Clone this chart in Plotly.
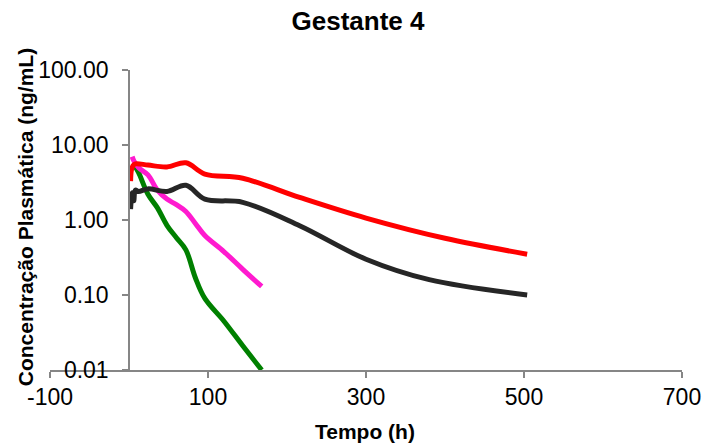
import plotly.graph_objects as go

# Plasma concentration profiles (ng/mL) over time (h)
red_t = [2, 3, 5, 8, 24, 48, 72, 96, 144, 216, 300, 400, 504]
red_c = [3.3, 4.6, 5.3, 5.6, 5.4, 5.1, 5.8, 4.1, 3.6, 2.0, 1.06, 0.57, 0.35]

black_t = [2, 4, 6, 8, 12, 24, 48, 72, 96, 144, 216, 300, 380, 504]
black_c = [1.4, 2.3, 1.8, 2.5, 2.4, 2.6, 2.4, 2.9, 1.9, 1.72, 0.84, 0.30, 0.16, 0.10]

pink_t = [4, 6, 12, 24, 36, 48, 60, 72, 84, 96, 120, 144, 168]
pink_c = [7.0, 6.2, 5.0, 4.0, 2.5, 1.9, 1.6, 1.3, 0.9, 0.62, 0.38, 0.22, 0.13]

green_t = [6, 12, 24, 36, 48, 60, 72, 84, 96, 120, 144, 168]
green_c = [5.5, 4.3, 2.2, 1.45, 0.85, 0.58, 0.40, 0.17, 0.09, 0.045, 0.021, 0.01]

x_ticks = [-100, 100, 300, 500, 700]
y_ticks = [0.01, 0.1, 1, 10, 100]
y_labels = [f"{v:.2f}" for v in y_ticks]

FONT = "Arial, Liberation Sans, sans-serif"
AXIS_GRAY = "#868686"

series = [
    (green_t, green_c, "#008000"),
    (pink_t, pink_c, "#FF1ACF"),
    (black_t, black_c, "#262626"),
    (red_t, red_c, "#FF0000"),
]

fig = go.Figure()
for t, c, col in series:
    fig.add_trace(go.Scatter(
        x=t, y=c, mode="lines",
        line=dict(color=col, width=5, shape="spline", smoothing=1.0),
        showlegend=False, hoverinfo="skip",
    ))

fig.update_layout(
    width=713, height=448,
    margin=dict(l=50, r=25, t=70, b=78),
    paper_bgcolor="white", plot_bgcolor="white",
    font=dict(family=FONT, color="black"),
    title=dict(text="<b>Gestante 4</b>", x=358 / 713, xanchor="center",
               y=1 - 21 / 448, yanchor="middle", font=dict(size=26, family=FONT)),
    xaxis=dict(
        range=[-100, 700], tickvals=x_ticks, ticktext=[str(v) for v in x_ticks],
        showgrid=False, zeroline=False, showline=True, linecolor=AXIS_GRAY, linewidth=1.5,
        ticks="outside", ticklen=6, tickcolor=AXIS_GRAY, tickwidth=1.5,
        tickfont=dict(size=23, family=FONT, color="black"),
    ),
    yaxis=dict(
        type="log", range=[-2, 2], tickvals=y_ticks, ticktext=y_labels,
        anchor="free", position=0.125, ticklabelstandoff=9,
        showgrid=False, zeroline=False, showline=True, linecolor=AXIS_GRAY, linewidth=1.5,
        ticks="outside", ticklen=6, tickcolor=AXIS_GRAY, tickwidth=1.5,
        tickfont=dict(size=23, family=FONT, color="black"),
    ),
)

fig.add_annotation(
    text="<b>Concentração Plasmática (ng/mL)</b>", textangle=-90,
    xref="paper", yref="paper", x=(25 - 50) / 638, y=(370 - 217) / 300,
    xanchor="center", yanchor="middle", showarrow=False,
    font=dict(size=21, family=FONT, color="black"),
)
fig.add_annotation(
    text="<b>Tempo (h)</b>",
    xref="paper", yref="paper", x=(368 - 50) / 638, y=(370 - 432) / 300,
    xanchor="center", yanchor="middle", showarrow=False,
    font=dict(size=21, family=FONT, color="black"),
)

fig.write_html("out.html")
